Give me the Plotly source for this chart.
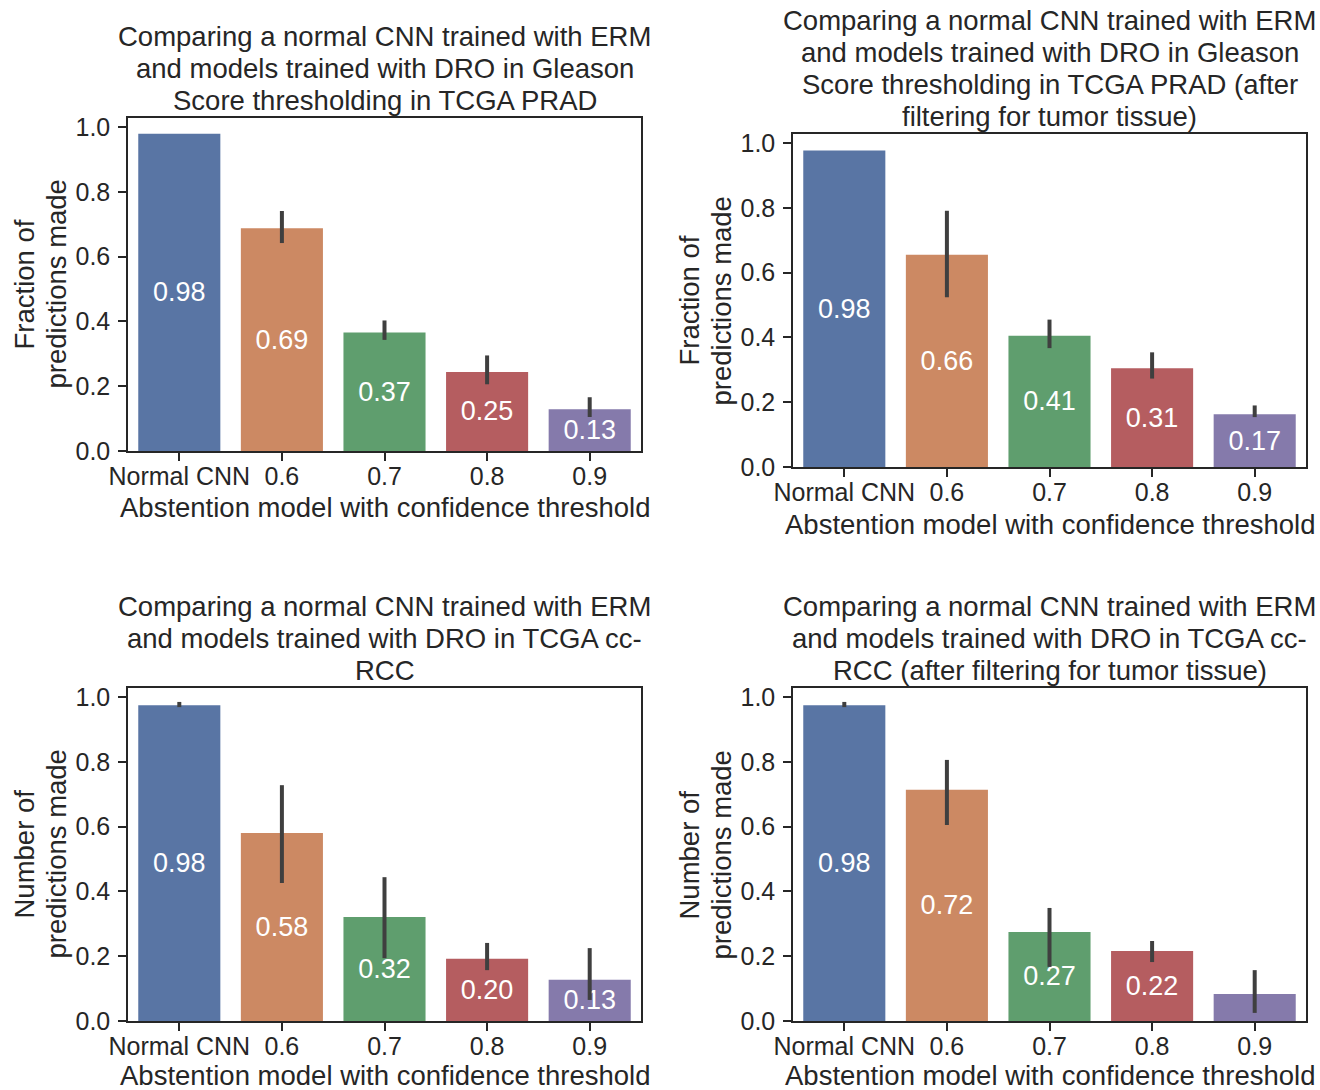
import plotly.graph_objects as go

W, H = 1320, 1090

categories = ["Normal CNN", "0.6", "0.7", "0.8", "0.9"]
bar_colors = ["#5975A4", "#CC8963", "#5F9E6E", "#B55D60", "#857AAB"]

# Panel 1: TCGA PRAD
prad_values = [0.979, 0.688, 0.366, 0.244, 0.129]
prad_labels = ["0.98", "0.69", "0.37", "0.25", "0.13"]
prad_ci_low = [0.979, 0.642, 0.343, 0.206, 0.105]
prad_ci_high = [0.979, 0.741, 0.403, 0.295, 0.166]

# Panel 2: TCGA PRAD (tumor filtered)
prad_tumor_values = [0.977, 0.655, 0.405, 0.305, 0.163]
prad_tumor_labels = ["0.98", "0.66", "0.41", "0.31", "0.17"]
prad_tumor_ci_low = [0.977, 0.524, 0.367, 0.273, 0.154]
prad_tumor_ci_high = [0.977, 0.791, 0.455, 0.354, 0.190]

# Panel 3: TCGA ccRCC
rcc_values = [0.975, 0.580, 0.321, 0.192, 0.127]
rcc_labels = ["0.98", "0.58", "0.32", "0.20", "0.13"]
rcc_ci_low = [0.969, 0.426, 0.194, 0.157, 0.065]
rcc_ci_high = [0.985, 0.728, 0.444, 0.241, 0.225]

# Panel 4: TCGA ccRCC (tumor filtered)
rcc_tumor_values = [0.975, 0.714, 0.275, 0.216, 0.083]
rcc_tumor_labels = ["0.98", "0.72", "0.27", "0.22", ""]
rcc_tumor_ci_low = [0.969, 0.605, 0.167, 0.182, 0.025]
rcc_tumor_ci_high = [0.985, 0.806, 0.349, 0.247, 0.157]

titles = [
    ["Comparing a normal CNN trained with ERM", "and models trained with DRO in Gleason",
     "Score thresholding in TCGA PRAD"],
    ["Comparing a normal CNN trained with ERM", "and models trained with DRO in Gleason",
     "Score thresholding in TCGA PRAD (after", "filtering for tumor tissue)"],
    ["Comparing a normal CNN trained with ERM", "and models trained with DRO in TCGA cc-", "RCC"],
    ["Comparing a normal CNN trained with ERM", "and models trained with DRO in TCGA cc-",
     "RCC (after filtering for tumor tissue)"],
]
ylabels = [
    ["Fraction of", "predictions made"],
    ["Fraction of", "predictions made"],
    ["Number of", "predictions made"],
    ["Number of", "predictions made"],
]
xlabel = "Abstention model with confidence threshold"

panels = [
    (prad_values, prad_labels, prad_ci_low, prad_ci_high),
    (prad_tumor_values, prad_tumor_labels, prad_tumor_ci_low, prad_tumor_ci_high),
    (rcc_values, rcc_labels, rcc_ci_low, rcc_ci_high),
    (rcc_tumor_values, rcc_tumor_labels, rcc_tumor_ci_low, rcc_tumor_ci_high),
]

# pixel boxes (left, top, right, bottom)
boxes = [
    (128, 118, 641, 451),
    (793, 134, 1306, 467),
    (128, 688, 641, 1021),
    (793, 688, 1306, 1021),
]
xtitle_shift = [-57, -57, -54, -54]
title_last_gap = 18   # px from last title line centre to axes top
LINE = 32

FONT = "Liberation Sans, Arial, sans-serif"
TXT = "#262626"

fig = go.Figure()
for i, ((vals, labs, lo, hi), box) in enumerate(zip(panels, boxes)):
    n = "" if i == 0 else str(i + 1)
    fig.add_trace(go.Bar(
        x=categories, y=vals, text=labs,
        marker=dict(color=bar_colors, line=dict(width=0)),
        textposition="inside", insidetextanchor="middle", textangle=0,
        constraintext="none",
        textfont=dict(family=FONT, size=27, color="white"),
        error_y=dict(type="data", symmetric=False,
                     array=[h - v for h, v in zip(hi, vals)],
                     arrayminus=[v - l for v, l in zip(vals, lo)],
                     color="#3f3f3f", thickness=4, width=0),
        xaxis="x" + n, yaxis="y" + n, showlegend=False,
    ))
    l, t, r, b = box
    fig.layout["xaxis" + n] = dict(
        domain=[l / W, r / W], anchor="y" + n, type="category", automargin=False,
        range=[-0.5, 4.5], showline=True, mirror=True, linecolor=TXT, linewidth=1.5,
        ticks="outside", ticklen=8, tickwidth=1.5, tickcolor=TXT, ticklabelstandoff=-6,
        tickfont=dict(family=FONT, size=25, color=TXT), showgrid=False,
    )
    fig.layout["yaxis" + n] = dict(
        domain=[1 - b / H, 1 - t / H], anchor="x" + n, automargin=False,
        range=[0, 1.028], tickvals=[0, 0.2, 0.4, 0.6, 0.8, 1.0], tickformat=".1f",
        showline=True, mirror=True, linecolor=TXT, linewidth=1.5,
        ticks="outside", ticklen=8, tickwidth=1.5, tickcolor=TXT, ticklabelstandoff=3,
        tickfont=dict(family=FONT, size=25, color=TXT), showgrid=False, zeroline=False,
    )
    xref = ("x" + n) + " domain"
    yref = ("y" + n) + " domain"
    lines = titles[i]
    for k, line in enumerate(lines):
        fig.add_annotation(text=line, xref=xref, yref=yref, x=0.5, y=1,
                           xanchor="center", yanchor="middle",
                           yshift=title_last_gap + (len(lines) - 1 - k) * LINE,
                           showarrow=False, font=dict(family=FONT, size=27.5, color=TXT))
    fig.add_annotation(text=xlabel, xref=xref, yref=yref, x=0.5, y=0,
                       xanchor="center", yanchor="middle", yshift=xtitle_shift[i],
                       showarrow=False, font=dict(family=FONT, size=27.5, color=TXT))
    for k, line in enumerate(ylabels[i]):
        fig.add_annotation(text=line, xref=xref, yref=yref, x=0, y=0.5,
                           xanchor="center", yanchor="middle", xshift=-104 + k * LINE,
                           textangle=-90, showarrow=False,
                           font=dict(family=FONT, size=27.5, color=TXT))

fig.update_layout(
    width=W, height=H, margin=dict(l=0, r=0, t=0, b=0, autoexpand=False),
    paper_bgcolor="white", plot_bgcolor="white", bargap=0.2,
    font=dict(family=FONT, color=TXT),
)
fig.write_html(
    "out.html",
    config={"displayModeBar": False},
    post_script="document.body.style.margin='0px';document.body.style.overflow='hidden';",
)
